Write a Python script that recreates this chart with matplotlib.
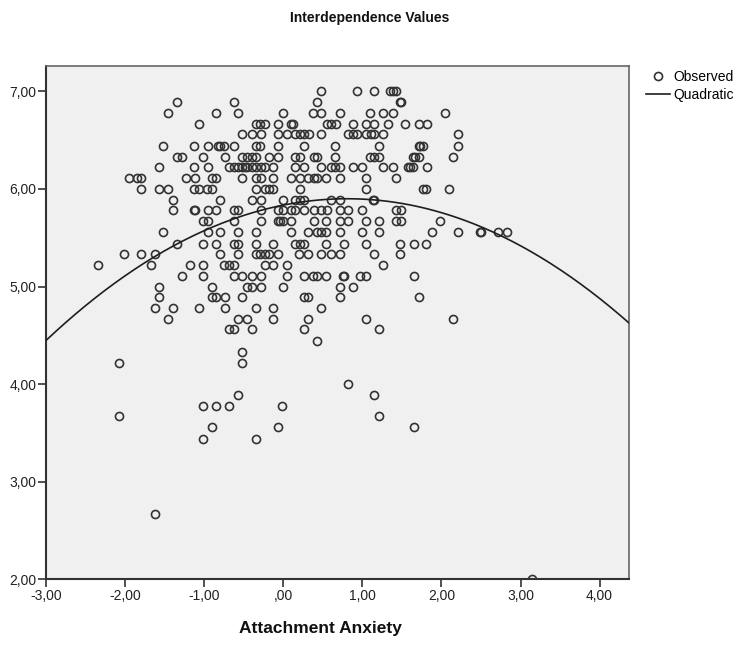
import matplotlib
matplotlib.use("Agg")
import matplotlib.pyplot as plt
from matplotlib.lines import Line2D
from matplotlib.ticker import FuncFormatter
import numpy as np

plt.rcParams['font.family'] = ['Liberation Sans', 'DejaVu Sans']

# attachment anxiety, one line per interdependence level (7,00 down to 2,00)
anxiety = [
    0.48, 0.93, 1.15, 1.35, 1.38, 1.43,
    -1.35, -0.63, 0.43, 1.48, 1.49,
    -1.46, -0.85, -0.57, -0.01, 0.37, 0.48, 0.71, 1.09, 1.26, 1.38, 2.04,
    -1.07, -0.35, -0.30, -0.24, -0.07, 0.10, 0.12, 0.55, 0.60, 0.66, 0.88, 1.04, 1.15, 1.32, 1.54, 1.71, 1.82,
    -0.52, -0.40, -0.29, -0.07, 0.04, 0.15, 0.21, 0.26, 0.32, 0.48, 0.82, 0.88, 0.93, 1.04, 1.11, 1.15, 1.26, 2.21,
    -1.52, -1.13, -0.96, -0.83, -0.80, -0.75, -0.63, -0.35, -0.30, -0.07, 0.26, 0.65, 1.21, 1.71, 1.73, 1.76, 2.21,
    -1.35, -1.29, -1.02, -0.74, -0.52, -0.46, -0.40, -0.35, -0.18, -0.07, 0.15, 0.21, 0.38, 0.43, 0.65, 1.10,
    1.15, 1.21, 1.64, 1.67, 1.71, 2.15,
    -1.57, -1.13, -0.96, -0.69, -0.63, -0.57, -0.52, -0.49, -0.46, -0.40, -0.35, -0.29, -0.24, -0.13,
    0.15, 0.26, 0.48, 0.60, 0.65, 0.71, 0.88, 0.99, 1.26, 1.38, 1.57, 1.60, 1.64, 1.82,
    -1.96, -1.85, -1.80, -1.24, -1.12, -0.90, -0.85, -0.52, -0.35, -0.29, -0.13, 0.10, 0.21, 0.31, 0.38, 0.43,
    0.54, 0.71, 1.04, 1.43,
    -1.80, -1.58, -1.46, -1.13, -1.07, -0.97, -0.90, -0.35, -0.24, -0.18, -0.13, 0.21, 1.04, 1.76, 1.81, 2.10,
    -1.40, -0.80, -0.40, -0.29, -0.01, 0.15, 0.21, 0.26, 0.60, 0.71, 1.13, 1.15,
    -1.40, -1.13, -1.12, -0.96, -0.85, -0.63, -0.57, -0.29, -0.07, -0.01, 0.10, 0.15, 0.26, 0.38, 0.48, 0.55,
    0.71, 0.82, 0.99, 1.43, 1.49,
    -1.02, -0.96, -0.63, -0.29, -0.07, -0.04, -0.01, 0.10, 0.38, 0.54, 0.71, 0.82, 1.04, 1.21, 1.43, 1.49, 1.98,
    -1.52, -0.96, -0.80, -0.57, -0.35, 0.10, 0.31, 0.43, 0.48, 0.54, 0.71, 0.99, 1.21, 1.88, 2.21, 2.49, 2.50,
    2.71, 2.83,
    -1.35, -1.02, -0.85, -0.63, -0.57, -0.35, -0.13, 0.15, 0.21, 0.26, 0.54, 0.77, 1.04, 1.48, 1.65, 1.81,
    -2.02, -1.80, -1.63, -0.80, -0.57, -0.35, -0.30, -0.24, -0.18, -0.07, 0.20, 0.31, 0.48, 0.60, 0.71, 1.15, 1.48,
    -2.35, -1.68, -1.18, -1.02, -0.75, -0.69, -0.63, -0.24, -0.13, 0.04, 1.26,
    -1.29, -1.02, -0.63, -0.52, -0.40, -0.29, 0.04, 0.26, 0.37, 0.43, 0.54, 0.75, 0.77, 0.97, 1.04, 1.65,
    -1.57, -0.90, -0.46, -0.40, -0.29, -0.01, 0.71, 0.88,
    -1.57, -0.91, -0.85, -0.74, -0.52, 0.26, 0.31, 0.71, 1.71,
    -1.63, -1.40, -1.07, -0.74, -0.35, -0.13, 0.48,
    -1.46, -0.57, -0.46, -0.13, 0.31, 1.04, 2.15,
    -0.69, -0.63, -0.40, 0.26, 1.21,
    0.43,
    -0.52,
    -2.08, -0.52,
    0.82,
    -0.57, 1.15,
    -1.02, -0.85, -0.69, -0.02,
    -2.08, 1.21,
    -0.90, -0.07, 1.65,
    -1.02, -0.35,
    -1.63,
    3.15,
]

interdependence = (
    [7.00] * 6 + [6.89] * 5 + [6.78] * 11 + [6.67] * 17 + [6.56] * 18
    + [6.44] * 17 + [6.33] * 22 + [6.22] * 28 + [6.11] * 20 + [6.00] * 16
    + [5.89] * 12 + [5.78] * 21 + [5.67] * 17 + [5.56] * 19 + [5.44] * 16
    + [5.33] * 17 + [5.22] * 11 + [5.11] * 16 + [5.00] * 8 + [4.89] * 9
    + [4.78] * 7 + [4.67] * 7 + [4.56] * 5 + [4.44] * 1 + [4.33] * 1
    + [4.22] * 2 + [4.00] * 1 + [3.89] * 2 + [3.78] * 4 + [3.67] * 2
    + [3.56] * 3 + [3.44] * 2 + [2.67] * 1 + [2.00] * 1
)
assert len(anxiety) == len(interdependence)

# quadratic fit: b0 + b1*x + b2*x^2
quad_coef = [5.835, 0.161, -0.100]

x_ticks = [-3, -2, -1, 0, 1, 2, 3, 4]
y_ticks = [2, 3, 4, 5, 6, 7]


def comma_fmt(v, pos=None):
    s = f"{v:.2f}".replace('.', ',')
    if s == "0,00":
        s = ",00"
    return s


fig = plt.figure(figsize=(7.4, 6.46), dpi=100)
ax = fig.add_axes([0.0628, 0.1033, 0.7876, 0.7945])
ax.set_facecolor('#f0f0f0')

ax.plot(anxiety, interdependence, linestyle='none', marker='o', ms=5.8,
        mfc='none', mec='#333333', mew=1.2, zorder=3)

xs = np.linspace(-3.0, 4.377, 300)
ys = quad_coef[0] + quad_coef[1] * xs + quad_coef[2] * xs ** 2
ax.plot(xs, ys, color='#1e1e1e', lw=1.2, zorder=4)

ax.set_xlim(-3.0, 4.377)
ax.set_ylim(2.0, 7.26)
ax.set_xticks(x_ticks)
ax.set_yticks(y_ticks)
ax.xaxis.set_major_formatter(FuncFormatter(comma_fmt))
ax.yaxis.set_major_formatter(FuncFormatter(comma_fmt))
ax.tick_params(direction='out', length=5.5, width=1.2, color='#333333',
               labelsize=10, labelcolor='#222222', pad=1.5)

for side in ['left', 'bottom']:
    ax.spines[side].set_color('#333333')
    ax.spines[side].set_linewidth(1.5)
for side in ['top', 'right']:
    ax.spines[side].set_color('#666666')
    ax.spines[side].set_linewidth(1.2)

fig.text(320 / 740, 1 - 629 / 646, 'Attachment Anxiety', ha='center', va='center',
         fontsize=12.5, fontweight='bold', color='#111111')
fig.text(0.5, 1 - 18 / 646, 'Interdependence Values', ha='center', va='center',
         fontsize=10, fontweight='bold', color='#111111')

handles = [
    Line2D([], [], linestyle='none', marker='o', ms=5.8, mfc='none',
           mec='#333333', mew=1.2),
    Line2D([], [], color='#1e1e1e', lw=1.2),
]
fig.legend(handles, ['Observed', 'Quadratic'], loc='upper left',
           bbox_to_anchor=(0.873, 0.892), frameon=False, fontsize=10,
           handlelength=1.7, handletextpad=0.3, labelspacing=0.28,
           borderpad=0, borderaxespad=0)

fig.savefig('out.png', dpi=100)
